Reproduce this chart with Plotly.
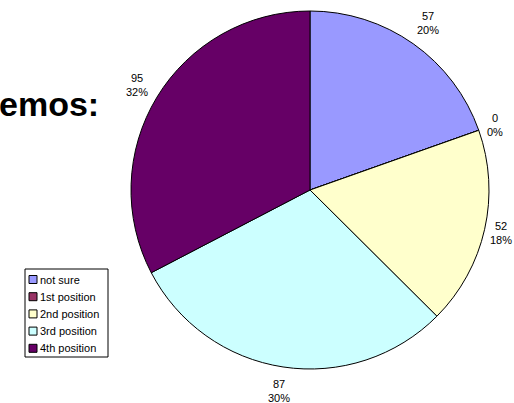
import math
import plotly.graph_objects as go

labels = ["not sure", "1st position", "2nd position", "3rd position", "4th position"]
values = [57, 0, 52, 87, 95]
pct_labels = ["20%", "0%", "18%", "30%", "32%"]
colors = ["#9999FF", "#993366", "#FFFFCC", "#CCFFFF", "#660066"]

W, H = 514, 403
cx, cy, R = 310, 190, 179
FONT = "Liberation Sans, Arial"


def px(x):
    return x / W


def py(y):
    return 1 - y / H


fig = go.Figure(go.Pie(
    labels=labels, values=values, sort=False, direction="clockwise", rotation=0,
    marker=dict(colors=colors, line=dict(color="black", width=1)),
    textinfo="none", hoverinfo="label+value+percent",
    domain=dict(x=[px(cx - R), px(cx + R)], y=[py(cy + R), py(cy - R)]),
    showlegend=False,
))

total = sum(values)
cum = 0
dist = [205, 196, 196, 203, 202]
anns = []
shapes = []
for v, p, d in zip(values, pct_labels, dist):
    mid = (cum + v / 2) / total * 2 * math.pi
    cum += v
    x = cx + d * math.sin(mid)
    y = cy - d * math.cos(mid)
    anns.append(dict(x=px(x), y=py(y), xref="paper", yref="paper",
                     xanchor="center", yanchor="middle",
                     text=f"{v}<br>{p}", showarrow=False, align="center",
                     font=dict(family=FONT, size=11, color="black")))

anns.append(dict(x=0, y=py(104), xref="paper", yref="paper", xanchor="left", yanchor="middle",
                 xshift=-3, text="<b>emos:</b>", showarrow=False,
                 font=dict(family=FONT, size=34, color="black")))

# legend (built from labels/colors)
lx0, ly0, lx1, ly1 = 25, 269, 108, 357
shapes.append(dict(type="rect", xref="paper", yref="paper",
                   x0=px(lx0), x1=px(lx1), y0=py(ly1), y1=py(ly0),
                   line=dict(color="black", width=1), fillcolor="white", layer="above"))
for i, (lab, col) in enumerate(zip(labels, colors)):
    yc = 279.5 + i * 17.2
    shapes.append(dict(type="rect", xref="paper", yref="paper",
                       x0=px(29), x1=px(37), y0=py(yc + 4), y1=py(yc - 4),
                       line=dict(color="black", width=1), fillcolor=col, layer="above"))
    anns.append(dict(x=px(38), y=py(yc), xref="paper", yref="paper",
                     xanchor="left", yanchor="middle", text=lab, showarrow=False,
                     font=dict(family=FONT, size=11, color="black")))

fig.update_layout(
    width=W, height=H, margin=dict(l=0, r=0, t=0, b=0),
    paper_bgcolor="white", plot_bgcolor="white",
    annotations=anns, shapes=shapes, showlegend=False,
)
fig.write_html("out.html")
